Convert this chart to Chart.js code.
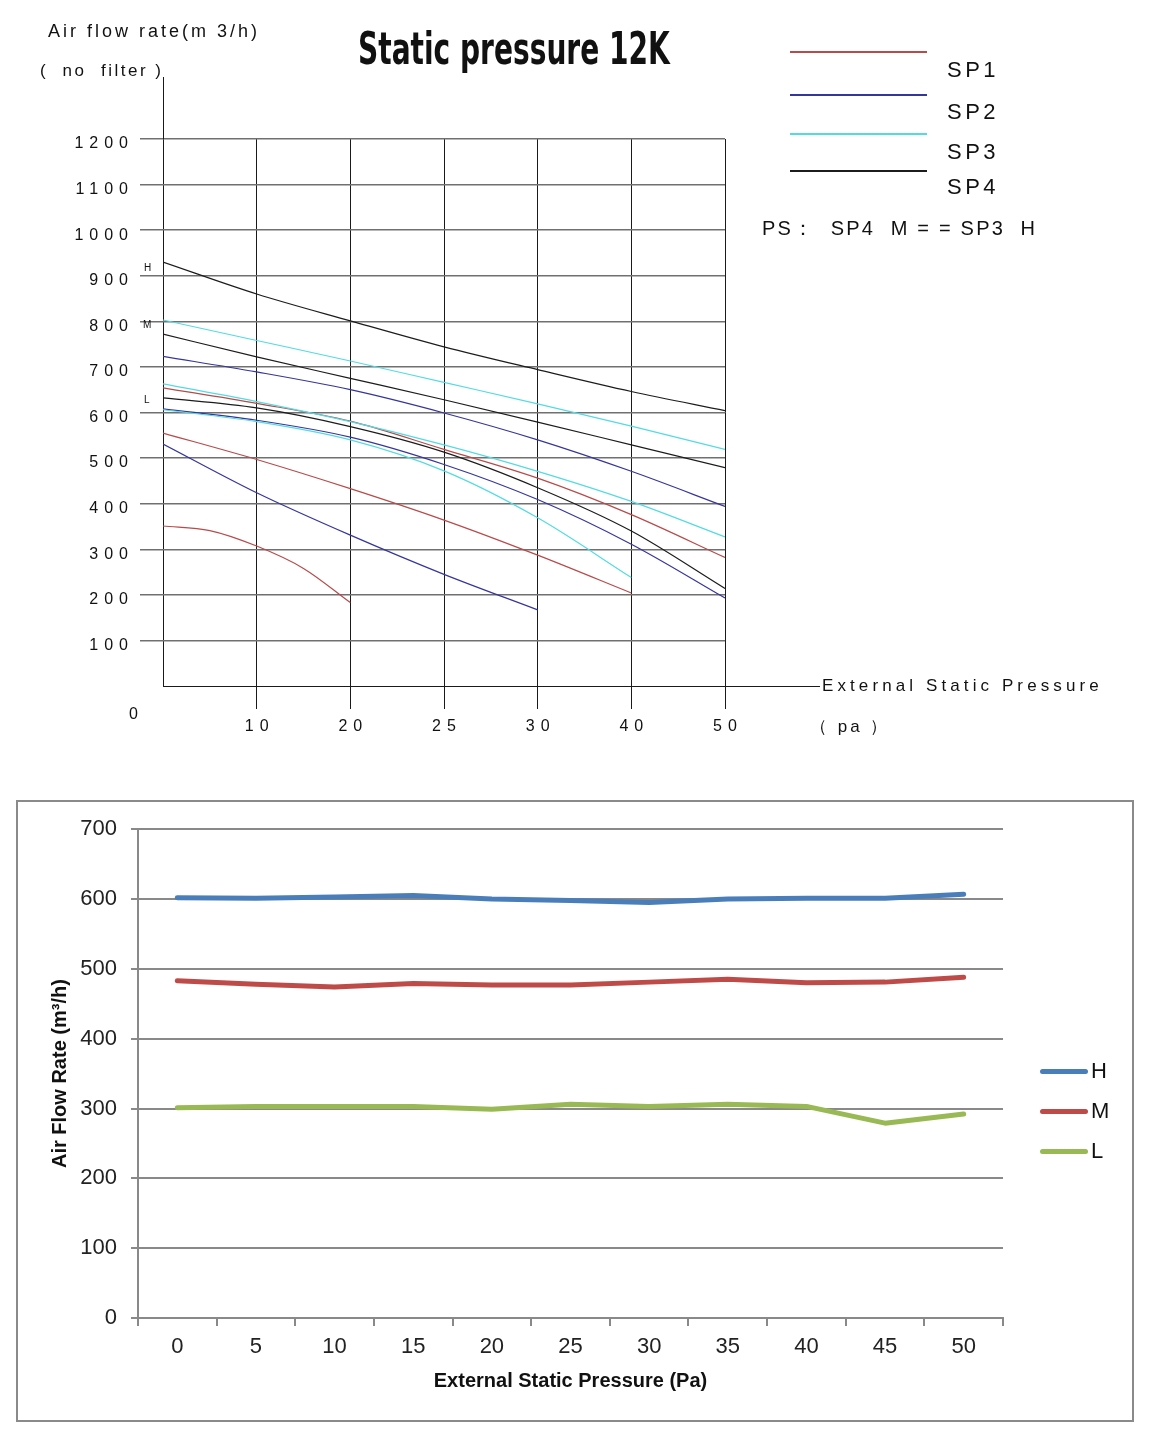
<!DOCTYPE html>
<html>
<head>
<meta charset="utf-8">
<script src="https://cdn.jsdelivr.net/npm/chart.js@4.4.0/dist/chart.umd.js"></script>
<style>
  html, body { margin: 0; padding: 0; background: #fff; }
  body {
    width: 1154px; height: 1440px; position: relative; overflow: hidden;
    font-family: "Liberation Sans", Arial, sans-serif; color: #111;
  }
  .t { position: absolute; white-space: pre; line-height: 1; }
  #topChart { position: absolute; left: 0; top: 0; }
  #title {
    position: absolute; left: 0; top: 26px; width: 1028px; text-align: center;
    font-family: "DejaVu Sans Condensed", "DejaVu Sans", sans-serif; font-weight: bold;
    font-size: 45px; line-height: 1; white-space: pre;
  }
  #title span { display: inline-block; transform-origin: 50% 50%; }
  .legLine { position: absolute; left: 790px; width: 137px; height: 1.5px; }
  .sp { font-size: 22px; letter-spacing: 3.5px; left: 947px; }
  #frame {
    position: absolute; left: 16px; top: 800px; width: 1118px; height: 622px;
    box-sizing: border-box; border: 2px solid #8a8a8a;
  }
  #bottomChart { position: absolute; left: 18px; top: 802px; }
  .bLine { position: absolute; left: 1040px; width: 48px; height: 5px; border-radius: 3px; }
  .bTxt { font-size: 22px; left: 1091px; }
</style>
</head>
<body>
<canvas id="topChart" width="1154" height="770"></canvas>
<div id="title"><span>Static pressure 12K</span></div>

<div class="t" style="left:48px; top:22px; font-size:18px; letter-spacing:3px;">Air flow rate(m 3/h)</div>
<div class="t" style="left:40px; top:62px; font-size:17px; letter-spacing:2.5px;">(  no  filter )</div>
<div class="t" id="origin" style="left:129px; top:706px; font-size:16px;"></div>
<div class="t" style="left:144px; top:263px; font-size:10px;">H</div>
<div class="t" style="left:143px; top:320px; font-size:10px;">M</div>
<div class="t" style="left:144px; top:395px; font-size:10px;">L</div>
<div class="t" style="left:822px; top:677px; font-size:17px; letter-spacing:4.1px;">External Static Pressure</div>
<div class="t" style="left:810px; top:718px; font-size:17px; letter-spacing:3px;">（ pa ）</div>

<div id="topLegend"></div>
<div class="t" style="left:762px; top:218px; font-size:20px; letter-spacing:2.2px;">PS：  SP4  M = = SP3  H</div>

<div id="frame"></div>
<canvas id="bottomChart" width="1114" height="618"></canvas>
<div id="bottomLegend"></div>

<script>
// ---- top chart: static pressure curves (x = grid position, 0..6) ----
const PRESSURE_TICKS = ['0', '10', '20', '25', '30', '40', '50'];
const GRID_POS = [0, 1, 2, 3, 4, 5, 6];
const FLOW_TICKS_MAX = 1200;

const SP1_H = [654, 620, 581, 519, 456, 376, 282];
const SP1_M = [555, 497, 433, 364, 287, 204];
const SP1_L = [351, 341, 307, 258, 183];
const SP1_L_POS = [0, 0.5, 1, 1.5, 2];
const SP2_H = [723, 689, 650, 599, 540, 471, 394];
const SP2_M = [608, 583, 546, 486, 409, 311, 193];
const SP2_L = [531, 424, 331, 245, 167];
const SP3_H = [803, 758, 713, 666, 619, 570, 519];
const SP3_M = [663, 624, 580, 529, 471, 405, 327];
const SP3_L = [606, 580, 540, 472, 369, 238];
const SP4_H = [930, 860, 801, 744, 694, 646, 604];
const SP4_M = [772, 722, 675, 628, 579, 529, 479];
const SP4_L = [632, 610, 569, 513, 435, 340, 214];

const SP_NAMES = ['SP1', 'SP2', 'SP3', 'SP4'];
const SP_COLORS = ['#b84a4a', '#35359e', '#52dbe3', '#1c1c1c'];

// ---- bottom chart: air flow vs external static pressure ----
const STATIC_PA = ['0', '5', '10', '15', '20', '25', '30', '35', '40', '45', '50'];
const FLOW_H = [602, 601, 603, 605, 600, 598, 595, 600, 601, 601, 607];
const FLOW_M = [483, 478, 474, 479, 477, 477, 481, 485, 480, 481, 488];
const FLOW_L = [301, 303, 303, 303, 299, 306, 303, 306, 303, 279, 292];
const SPEED_NAMES = ['H', 'M', 'L'];
const SPEED_COLORS = ['#4a7ebb', '#be4b48', '#98b954'];

const FONT = '"Liberation Sans", Arial, sans-serif';

function curve(label, color, values, pos) {
    const xs = pos || GRID_POS;
    return {
        label: label,
        data: values.map((v, i) => ({ x: xs[i], y: v })),
        borderColor: color,
        borderWidth: 1.2,
        pointRadius: 0,
        cubicInterpolationMode: 'monotone',
        fill: false
    };
}

// title, squeezed to the condensed look of the original
const titleSpan = document.querySelector('#title span');
titleSpan.style.transform = 'scaleX(' + (312 / titleSpan.offsetWidth).toFixed(3) + ')';

document.getElementById('origin').textContent = PRESSURE_TICKS[0];

// legend of the top chart
const legTops = [51, 94, 133, 170];
const labTops = [59, 101, 141, 176];
const topLegend = document.getElementById('topLegend');
SP_NAMES.forEach((name, i) => {
    const line = document.createElement('div');
    line.className = 'legLine';
    line.style.top = legTops[i] + 'px';
    line.style.background = SP_COLORS[i];
    topLegend.appendChild(line);
    const txt = document.createElement('div');
    txt.className = 't sp';
    txt.style.top = labTops[i] + 'px';
    txt.textContent = name;
    topLegend.appendChild(txt);
});

// spaced-out lettering for the tick labels, and the axis lines that run past the grid
const spacedText = {
    id: 'spacedText',
    beforeDraw(chart) { chart.ctx.letterSpacing = '6px'; },
    afterDraw(chart) { chart.ctx.letterSpacing = '0px'; }
};
const axisExtension = {
    id: 'axisExtension',
    beforeDatasetsDraw(chart) {
        const { ctx, scales: { x, y } } = chart;
        ctx.save();
        ctx.strokeStyle = '#1a1a1a';
        ctx.lineWidth = 1;
        ctx.beginPath();
        ctx.moveTo(x.getPixelForValue(6), y.getPixelForValue(0) + 0.5);
        ctx.lineTo(820, y.getPixelForValue(0) + 0.5);
        ctx.moveTo(x.getPixelForValue(0) + 0.5, y.getPixelForValue(FLOW_TICKS_MAX));
        ctx.lineTo(x.getPixelForValue(0) + 0.5, 77);
        ctx.stroke();
        ctx.restore();
    }
};

new Chart(document.getElementById('topChart'), {
    type: 'line',
    data: {
        datasets: [
            curve('SP4 H', SP_COLORS[3], SP4_H),
            curve('SP3 H', SP_COLORS[2], SP3_H),
            curve('SP4 M', SP_COLORS[3], SP4_M),
            curve('SP2 H', SP_COLORS[1], SP2_H),
            curve('SP3 M', SP_COLORS[2], SP3_M),
            curve('SP1 H', SP_COLORS[0], SP1_H),
            curve('SP4 L', SP_COLORS[3], SP4_L),
            curve('SP3 L', SP_COLORS[2], SP3_L),
            curve('SP2 M', SP_COLORS[1], SP2_M),
            curve('SP1 M', SP_COLORS[0], SP1_M),
            curve('SP2 L', SP_COLORS[1], SP2_L),
            curve('SP1 L', SP_COLORS[0], SP1_L, SP1_L_POS)
        ]
    },
    options: {
        responsive: false,
        animation: false,
        devicePixelRatio: 1,
        layout: { padding: { top: 139, right: 429, left: 0, bottom: 0 } },
        plugins: { legend: { display: false }, tooltip: { enabled: false } },
        scales: {
            x: {
                type: 'linear', min: 0, max: 6,
                afterFit: (s) => { s.height = 84; },
                border: { display: false },
                grid: {
                    color: '#1a1a1a', lineWidth: 1, tickLength: 23,
                    tickColor: (c) => c.index === 0 ? 'rgba(0,0,0,0)' : '#1a1a1a'
                },
                ticks: {
                    stepSize: 1, autoSkip: false, maxRotation: 0, padding: 8, labelOffset: 3,
                    color: '#111', font: { family: FONT, size: 16 },
                    callback: (v, i) => i === 0 ? '' : PRESSURE_TICKS[i]
                }
            },
            y: {
                min: 0, max: FLOW_TICKS_MAX,
                afterFit: (s) => { s.width = 163; },
                border: { display: false },
                grid: {
                    color: (c) => c.tick && c.tick.value === 0 ? '#1a1a1a' : '#707070',
                    lineWidth: (c) => c.tick && c.tick.value === 0 ? 1 : 1.5,
                    tickLength: 23,
                    tickColor: (c) => c.tick && c.tick.value === 0 ? 'rgba(0,0,0,0)' : '#707070'
                },
                ticks: {
                    stepSize: 100, padding: 6, labelOffset: 5,
                    color: '#111', font: { family: FONT, size: 16 },
                    callback: (v) => v === 0 ? '' : String(v)
                }
            }
        }
    },
    plugins: [spacedText, axisExtension]
});

// legend of the bottom chart
const bottomLegend = document.getElementById('bottomLegend');
SPEED_NAMES.forEach((name, i) => {
    const cy = 1071 + i * 40;
    const line = document.createElement('div');
    line.className = 'bLine';
    line.style.top = (cy - 2.5) + 'px';
    line.style.background = SPEED_COLORS[i];
    bottomLegend.appendChild(line);
    const txt = document.createElement('div');
    txt.className = 't bTxt';
    txt.style.top = (cy - 11) + 'px';
    txt.textContent = name;
    bottomLegend.appendChild(txt);
});

const GRAY = '#898989';
const flowSets = [FLOW_H, FLOW_M, FLOW_L].map((vals, i) => ({
    label: SPEED_NAMES[i],
    data: vals,
    borderColor: SPEED_COLORS[i],
    borderWidth: 5,
    borderCapStyle: 'round',
    borderJoinStyle: 'round',
    pointRadius: 0,
    tension: 0,
    fill: false
}));

new Chart(document.getElementById('bottomChart'), {
    type: 'line',
    data: { labels: STATIC_PA, datasets: flowSets },
    options: {
        responsive: false,
        animation: false,
        devicePixelRatio: 1,
        layout: { padding: { top: 23, right: 129, left: 0, bottom: 0 } },
        plugins: { legend: { display: false }, tooltip: { enabled: false } },
        scales: {
            x: {
                type: 'category', offset: true,
                afterFit: (s) => { s.height = 102; },
                border: { display: true, color: GRAY, width: 2 },
                grid: { offset: true, drawOnChartArea: false, drawTicks: true, tickLength: 8, color: GRAY, lineWidth: 2 },
                ticks: { padding: 8, color: '#222', font: { family: FONT, size: 22 }, maxRotation: 0 },
                title: {
                    display: true, text: 'External Static Pressure (Pa)', color: '#111',
                    font: { family: FONT, size: 20, weight: 'bold' },
                    padding: { top: 0, bottom: 27 }
                }
            },
            y: {
                min: 0, max: 700,
                afterFit: (s) => { s.width = 120; },
                border: { display: true, color: GRAY, width: 2 },
                grid: { color: GRAY, lineWidth: 2, tickLength: 7 },
                ticks: { stepSize: 100, padding: 14, color: '#222', font: { family: FONT, size: 22 } },
                title: {
                    display: true, text: 'Air Flow Rate (m³/h)', color: '#111',
                    font: { family: FONT, size: 20, weight: 'bold' },
                    padding: { top: 30, bottom: 0 }
                }
            }
        }
    }
});
</script>
</body>
</html>
